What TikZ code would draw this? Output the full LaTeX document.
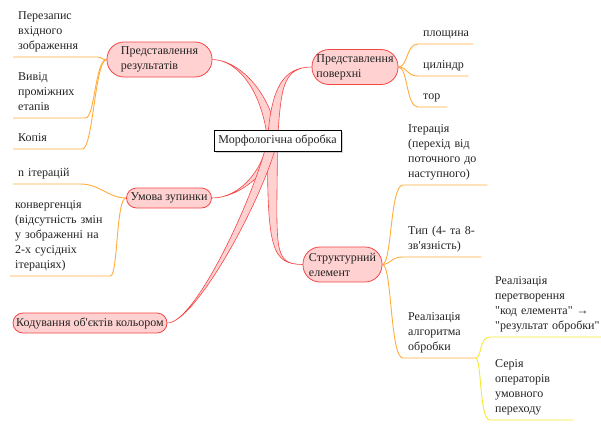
\documentclass[tikz,border=0pt]{standalone}
\usepackage{fontspec}
\setmainfont{Liberation Serif}[Ligatures=TeXOff]
\usetikzlibrary{calc,shadows}
\definecolor{pillfill}{RGB}{255,209,209}
\definecolor{pilldraw}{RGB}{245,70,70}
\definecolor{twig}{RGB}{255,172,60}
\definecolor{twigtwo}{RGB}{245,232,50}
\definecolor{inktext}{RGB}{35,35,35}
\pgfdeclarelayer{bg}
\pgfsetlayers{bg,main}
\tikzset{
  txt/.style={font=\fontsize{12}{15}\selectfont, text=inktext},
  rootbox/.style={txt, draw=black, fill=white, line width=0.8pt, inner sep=4pt,
    minimum width=127pt, minimum height=21pt,
    drop shadow={shadow xshift=2pt, shadow yshift=-2pt, opacity=0.35}},
  pill/.style={txt, draw=pilldraw, fill=pillfill, line width=0.8pt, align=left,
    rounded corners=#1, inner sep=0pt},
  pill/.default=10pt,
  leaf/.style={txt, align=left, anchor=south west, inner xsep=5pt, inner ysep=3pt,
    text width=#1, execute at end node=\strut},
  trunk/.style={draw=pilldraw, fill=pillfill, line width=0.6pt},
  twigline/.style={draw=twig, line width=0.9pt},
  twigyellow/.style={draw=twigtwo, line width=0.9pt}
}
% tapered branch from the hub: target, control near target, control near hub
\newcommand{\trunkto}[3]{%
  \filldraw[trunk] ($(hub)+(-5,0)$) .. controls ($#3+(-5,0)$) and #2 .. #1
    .. controls #2 and ($#3+(5,0)$) .. ($(hub)+(5,0)$) -- cycle;}
\begin{document}
\begin{tikzpicture}[x=1pt,y=-1pt]
  \useasboundingbox (0,0) rectangle (601,423);
  % Central node
  \node[rootbox] (root) at (277.5,140.5) {Морфологічна обробка};
  \coordinate (hub) at ([xshift=-5pt]root.center);
  % Main branches
  \node[pill=17pt, minimum width=105pt, minimum height=35pt] (pres) at (159.5,59.5) {Представлення\\результатів};
  \node[pill=17pt, minimum width=86pt, minimum height=35pt] (surf) at (355,67) {Представлення\\поверхні};
  \node[pill=10pt, minimum width=85pt, minimum height=20pt] (stop) at (169,198) {Умова зупинки};
  \node[pill=17pt, minimum width=79pt, minimum height=35pt] (struct) at (342.5,264.5) {Структурний\\елемент};
  \node[pill=10pt, minimum width=154pt, minimum height=20pt] (color) at (90,323) {Кодування об'єктів кольором};
  % Leaves of the results branch
  \node[leaf=74pt] (rez1) at (13,57) {Перезапис\\вхідного\\зображення};
  \node[leaf=62pt] (rez2) at (13,118) {Вивід\\проміжних\\етапів};
  \node[leaf=59pt] (rez3) at (13,149) {Копія};
  % Leaves of the surface branch
  \node[leaf=45pt] (pov1) at (418,44) {площина};
  \node[leaf=40pt] (pov2) at (418,76) {циліндр};
  \node[leaf=19pt] (pov3) at (418,107) {тор};
  % Leaves of the stop branch
  \node[leaf=57pt] (stp1) at (13,184) {n ітерацій};
  \node[leaf=90pt] (stp2) at (10,276) {конвергенція\\(відсутність змін\\у зображенні на\\2-х сусідніх\\ітераціях)};
  % Leaves of the structuring element branch
  \node[leaf=74pt] (str1) at (403,185) {Ітерація\\(перехід від\\поточного до\\наступного)};
  \node[leaf=68pt] (str2) at (403,257) {Тип (4-~та~8-\\зв'язність)};
  \node[leaf=62pt] (str3) at (403,358) {Реалізація\\алгоритма\\обробки};
  \node[leaf=108pt] (alg1) at (490,337) {Реалізація\\перетворення\\"код елемента" {\bfseries →}\\"результат обробки"};
  \node[leaf=73pt] (alg2) at (490,420) {Серія\\операторів\\умовного\\переходу};
  \begin{pgfonlayer}{bg}
    % Tapered main branches
    \trunkto{(pres.east)}{(240,60)}{(268,95)}
    \trunkto{(surf.west)}{(282,67)}{(276,90)}
    \trunkto{(stop.east)}{(240,198)}{(268,170)}
    \trunkto{(struct.west)}{(272,264)}{(272,250)}
    \trunkto{(color.east)}{(195,323)}{(258,200)}
    % Orange twigs
    \draw[twigline] (pres.west) .. controls (102,60) and (102,57) .. (rez1.south east) -- (rez1.south west);
    \draw[twigline] (pres.west) .. controls (95,60) and (95,118) .. (rez2.south east) -- (rez2.south west);
    \draw[twigline] (pres.west) .. controls (95,60) and (93,149) .. (rez3.south east) -- (rez3.south west);
    \foreach \lf/\y in {pov1/44,pov2/76,pov3/107}
      \draw[twigline] (surf.east) .. controls (408,67) and (406,\y) .. (\lf.south west) -- (\lf.south east);
    \draw[twigline] (stop.west) .. controls (108,198) and (100,184) .. (stp1.south east) -- (stp1.south west);
    \draw[twigline] (stop.west) .. controls (116,198) and (118,276) .. (stp2.south east) -- (stp2.south west);
    \foreach \lf/\y in {str1/185,str2/257,str3/358}
      \draw[twigline] (struct.east) .. controls (392,264) and (390,\y) .. (\lf.south west) -- (\lf.south east);
    % Yellow twigs
    \foreach \lf/\y in {alg1/337,alg2/420}
      \draw[twigyellow] (str3.south east) .. controls (482,358) and (479,\y) .. (\lf.south west) -- (\lf.south east);
  \end{pgfonlayer}
\end{tikzpicture}
\end{document}
